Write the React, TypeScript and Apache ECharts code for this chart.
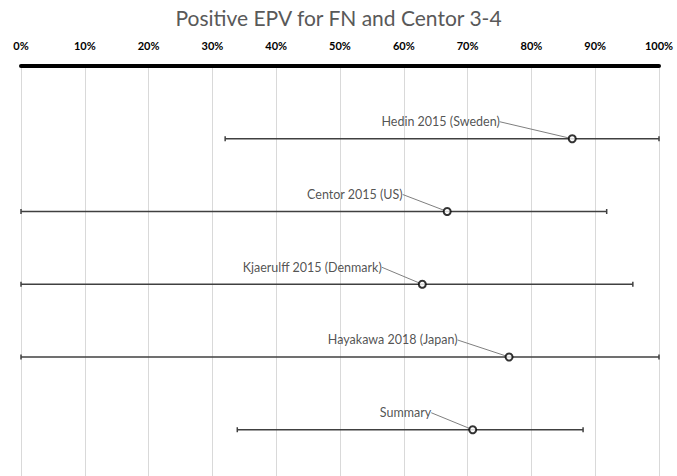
import React, { useEffect, useRef } from "react";
import * as echarts from "echarts";

const studies = [
  "Hedin 2015 (Sweden)",
  "Centor 2015 (US)",
  "Kjaerulff 2015 (Denmark)",
  "Hayakawa 2018 (Japan)",
  "Summary",
];
const epv = [86.4, 66.8, 62.9, 76.5, 70.8];
const lower = [32.0, 0, 0, 0, 33.9];
const upper = [100, 91.8, 95.9, 100, 88.1];
const rowPos = [1, 2, 3, 4, 5];
const xTicks = [0, 10, 20, 30, 40, 50, 60, 70, 80, 90, 100];

const labelDx = [-60, -32, -28, -39, -29];

export default function App() {
  const ref = useRef<HTMLDivElement>(null);
  useEffect(() => {
    if (!ref.current) return;
    const chart = echarts.init(ref.current, undefined, { renderer: "svg" });
    const font = "Lato, 'Open Sans', sans-serif";
    chart.setOption({
      animation: false,
      backgroundColor: "#ffffff",
      title: {
        text: "Positive EPV for FN and Centor 3-4",
        left: "center",
        top: 2,
        textStyle: { fontFamily: font, fontSize: 21, fontWeight: "normal", color: "#595959" },
      },
      grid: { left: 21, right: 18, top: 66, bottom: 0, containLabel: false },
      xAxis: {
        type: "value",
        position: "top",
        min: 0,
        max: 100,
        interval: 10,
        axisLine: { show: true, lineStyle: { color: "#000000", width: 4 } },
        axisTick: { show: false },
        axisLabel: {
          formatter: (v: number) => (xTicks.includes(v) ? v + "%" : ""),
          fontFamily: font,
          fontWeight: "bold",
          fontSize: 11,
          color: "#000000",
          margin: 15,
        },
        splitLine: { show: true, lineStyle: { color: "#d9d9d9", width: 1 } },
      },
      yAxis: {
        type: "value",
        inverse: true,
        min: 0,
        max: 5.636,
        show: false,
        splitLine: { show: false },
      },
      series: [
        {
          type: "custom",
          data: rowPos.map((y, i) => [lower[i], upper[i], y]),
          renderItem: (params: any, api: any) => {
            const p1 = api.coord([api.value(0), api.value(2)]);
            const p2 = api.coord([api.value(1), api.value(2)]);
            const style = { stroke: "#404040", lineWidth: 1.5 };
            return {
              type: "group",
              children: [
                { type: "line", shape: { x1: p1[0], y1: p1[1], x2: p2[0], y2: p2[1] }, style },
                { type: "line", shape: { x1: p1[0], y1: p1[1] - 2.5, x2: p1[0], y2: p1[1] + 2.5 }, style },
                { type: "line", shape: { x1: p2[0], y1: p2[1] - 2.5, x2: p2[0], y2: p2[1] + 2.5 }, style },
              ],
            };
          },
          z: 2,
        },
        {
          type: "scatter",
          data: rowPos.map((y, i) => ({ value: [epv[i], y], name: studies[i] })),
          symbol: "circle",
          symbolSize: 7,
          itemStyle: { color: "#ffffff", borderColor: "#000000", borderWidth: 2 },
          label: {
            show: true,
            position: "left",
            distance: 5,
            padding: [0, 3, 0, 3],
            formatter: (p: any) => p.name,
            fontFamily: font,
            fontSize: 12.5,
            color: "#262626",
          },
          labelLayout: (p: any) => ({ dx: labelDx[p.dataIndex], dy: -17 }),
          labelLine: { show: true, lineStyle: { color: "#7f7f7f", width: 1 } },
          z: 3,
        },
      ],
    });
    return () => chart.dispose();
  }, []);
  return (
    <div
      ref={ref}
      style={{ position: "absolute", left: 0, top: 0, width: 677, height: 476 }}
    />
  );
}
